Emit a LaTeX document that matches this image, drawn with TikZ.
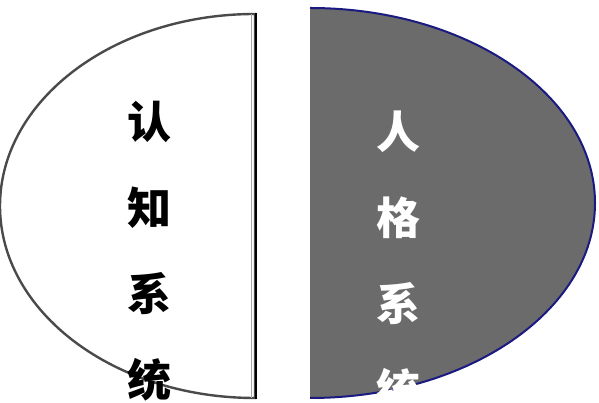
\documentclass[tikz,border=0pt]{standalone}
\usepackage{fontspec}
\newfontfamily\cjk{Noto Sans CJK SC}
\usepackage{xcolor}
\usepackage{tikz}
\usetikzlibrary{calc}
\definecolor{rim}{HTML}{4A4A4A}
\definecolor{darkfill}{HTML}{6B6B6B}
\definecolor{navy}{HTML}{1A1A80}
\tikzset{
  lefthalf/.style={draw=rim, line width=2.4pt, fill=white},
  righthalf/.style={fill=darkfill},
  rightrim/.style={draw=navy, line width=2pt},
  bar/.style={draw=black, line width=2.4pt},
  thinbar/.style={draw=gray!70, line width=1pt},
  char/.style={font=\cjk\bfseries\fontsize{44}{44}\selectfont, inner sep=0pt},
}
\begin{document}
\begin{tikzpicture}[x=1pt,y=1pt]
  \useasboundingbox (0,0) rectangle (599,403);
  \coordinate (L) at (255,197);
  \coordinate (R) at (310,200);
  % left half
  \draw[lefthalf] ($(L)+(0,192)$) arc[start angle=90, end angle=270, x radius=255, y radius=192] -- cycle;
  \draw[thinbar] (251,389) -- (251,5);
  \draw[bar] (256,390) -- (256,4);
  % right half
  \fill[righthalf] ($(R)+(0,195)$) arc[start angle=90, end angle=-90, x radius=285, y radius=195] -- cycle;
  \draw[rightrim] ($(R)+(0,195)$) arc[start angle=90, end angle=-90, x radius=285, y radius=195];
  % labels
  \foreach \t [count=\i] in {认,知,系,统}
    \node[char, text=black] (cog\i) at (149,403-122-86*\i+86) {\t};
  \foreach \t [count=\i] in {人,格,系,统}
    \node[char, text=white] (per\i) at (398,403-132-86*\i+86) {\t};
\end{tikzpicture}
\end{document}
